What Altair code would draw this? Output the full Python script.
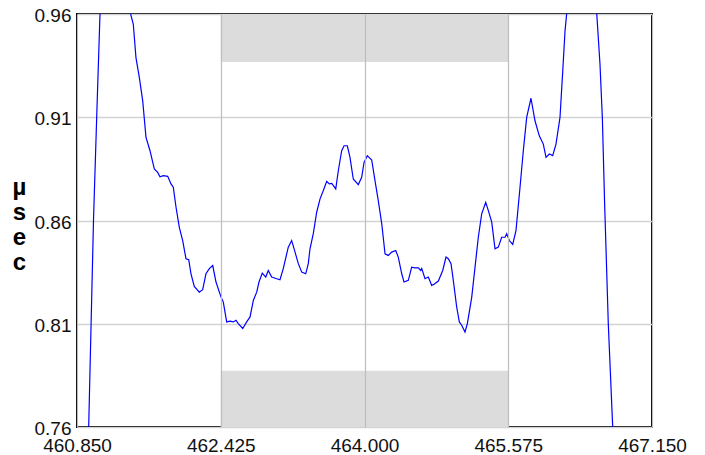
import altair as alt
import pandas as pd

# curve samples (x in index units, y in µsec)
xs = [460.949, 460.978, 461.031, 461.066, 461.102, 461.146, 461.266, 461.387, 461.434, 461.467,
      461.496, 461.533, 461.570, 461.606, 461.650, 461.697, 461.734, 461.759, 461.796, 461.844,
      461.880, 461.905, 461.935, 461.971, 462.008, 462.044, 462.074, 462.099, 462.135, 462.190,
      462.227, 462.263, 462.300, 462.337, 462.373, 462.428, 462.453, 462.490, 462.526, 462.563,
      462.592, 462.617, 462.666, 462.709, 462.746, 462.782, 462.819, 462.844, 462.880, 462.918,
      462.946, 462.983, 463.038, 463.074, 463.110, 463.165, 463.202, 463.239, 463.275, 463.312,
      463.356, 463.384, 463.403, 463.439, 463.476, 463.513, 463.549, 463.586, 463.614, 463.641,
      463.685, 463.713, 463.750, 463.776, 463.812, 463.841, 463.877, 463.932, 463.969, 463.995,
      464.031, 464.079, 464.115, 464.151, 464.189, 464.225, 464.261, 464.298, 464.342, 464.370,
      464.408, 464.433, 464.480, 464.517, 464.553, 464.590, 464.616, 464.627, 464.663, 464.699,
      464.736, 464.762, 464.809, 464.857, 464.893, 464.918, 464.948, 464.973, 465.010, 465.039,
      465.065, 465.101, 465.127, 465.175, 465.211, 465.247, 465.284, 465.328, 465.357, 465.394,
      465.430, 465.466, 465.503, 465.540, 465.558, 465.587, 465.624, 465.660, 465.704, 465.740,
      465.777, 465.824, 465.868, 465.915, 465.959, 465.989, 466.025, 466.062, 466.098, 466.142,
      466.172, 466.197, 466.216, 466.252, 466.372, 466.493, 466.544, 466.580, 466.606, 466.630,
      466.652, 466.671, 466.720, 466.745]
ys = [0.7151, 0.7600, 0.8605, 0.9102, 0.9600, 0.9904, 1.0097, 0.9904, 0.9606, 0.9550,
      0.9389, 0.9292, 0.9179, 0.9002, 0.8938, 0.8850, 0.8833, 0.8812, 0.8817, 0.8814,
      0.8777, 0.8761, 0.8664, 0.8567, 0.8503, 0.8415, 0.8410, 0.8342, 0.8281, 0.8253,
      0.8265, 0.8342, 0.8367, 0.8382, 0.8302, 0.8229, 0.8205, 0.8109, 0.8113, 0.8109,
      0.8117, 0.8101, 0.8077, 0.8109, 0.8133, 0.8213, 0.8253, 0.8302, 0.8345, 0.8326,
      0.8358, 0.8326, 0.8318, 0.8313, 0.8367, 0.8471, 0.8503, 0.8447, 0.8391, 0.8350,
      0.8342, 0.8391, 0.8463, 0.8536, 0.8640, 0.8705, 0.8745, 0.8790, 0.8777, 0.8780,
      0.8753, 0.8841, 0.8938, 0.8962, 0.8962, 0.8906, 0.8801, 0.8774, 0.8809, 0.8881,
      0.8914, 0.8893, 0.8793, 0.8696, 0.8584, 0.8439, 0.8431, 0.8447, 0.8455, 0.8423,
      0.8342, 0.8302, 0.8310, 0.8374, 0.8371, 0.8371, 0.8358, 0.8367, 0.8318, 0.8326,
      0.8286, 0.8291, 0.8307, 0.8358, 0.8423, 0.8415, 0.8391, 0.8310, 0.8181, 0.8109,
      0.8093, 0.8060, 0.8101, 0.8229, 0.8374, 0.8519, 0.8632, 0.8688, 0.8648, 0.8592,
      0.8463, 0.8471, 0.8519, 0.8519, 0.8536, 0.8503, 0.8484, 0.8552, 0.8761, 0.8938,
      0.9099, 0.9192, 0.9083, 0.9010, 0.8970, 0.8906, 0.8922, 0.8914, 0.8970, 0.9099,
      0.9324, 0.9518, 0.9606, 0.9856, 1.0025, 0.9856, 0.9606, 0.9358, 0.9099, 0.8696,
      0.8378, 0.8101, 0.7594, 0.7151]

x_ticks = [460.85, 462.425, 464.0, 465.575, 467.15]
y_ticks = [0.76, 0.81, 0.86, 0.91, 0.96]

band_x0 = [462.425, 462.425]
band_x1 = [465.575, 465.575]
band_y0 = [0.9368, 0.76]
band_y1 = [0.96, 0.7872]

curve = pd.DataFrame({"x": xs, "y": ys})
bands = pd.DataFrame({"x0": band_x0, "x1": band_x1, "y0": band_y0, "y1": band_y1})

xscale = alt.Scale(domain=[460.85, 467.15], nice=False, zero=False)
yscale = alt.Scale(domain=[0.76, 0.96], nice=False, zero=False)

xaxis = alt.Axis(values=x_ticks, format=".3f", title=None, grid=True, gridColor="#bdbdbd",
                 gridWidth=1.2, ticks=False, domain=False, labelFont="Liberation Sans",
                 labelFontSize=19, labelColor="#111111", labelPadding=9, zindex=1,
                 labelFlush=False, labelOverlap=False)
yaxis = alt.Axis(values=y_ticks, format=".2f", title=["µ", "s", "e", "c"], grid=True,
                 gridColor="#d3d3d3", gridWidth=1.5, ticks=False, domain=False,
                 labelFont="Liberation Sans", labelFontSize=19, labelColor="#111111",
                 labelPadding=6, labelOffset=1.5, labelFlush=False, labelOverlap=False,
                 titleAngle=0, titleFont="Liberation Sans", titleFontSize=24,
                 titleFontWeight="bold", titleColor="#000000", titleLineHeight=25,
                 titleAlign="center", titleBaseline="alphabetic", titleX=-58, titleY=180)

rects = alt.Chart(bands).mark_rect(color="#dcdcdc").encode(
    x=alt.X("x0:Q", scale=xscale, axis=xaxis),
    x2="x1:Q",
    y=alt.Y("y0:Q", scale=yscale, axis=yaxis),
    y2="y1:Q",
)

line = alt.Chart(curve).mark_line(color="#0000ff", strokeWidth=1.2, clip=True).encode(
    x=alt.X("x:Q", scale=xscale),
    y=alt.Y("y:Q", scale=yscale),
    order="x:Q",
)

chart = alt.layer(rects, line).properties(
    width=575, height=413,
    autosize=alt.AutoSizeParams(type="none"),
    padding={"left": 69, "top": 6, "right": 40, "bottom": 30},
).configure_view(stroke="#000000", strokeWidth=2)

chart.save("out.html", embed_options={"renderer": "svg", "actions": False})
